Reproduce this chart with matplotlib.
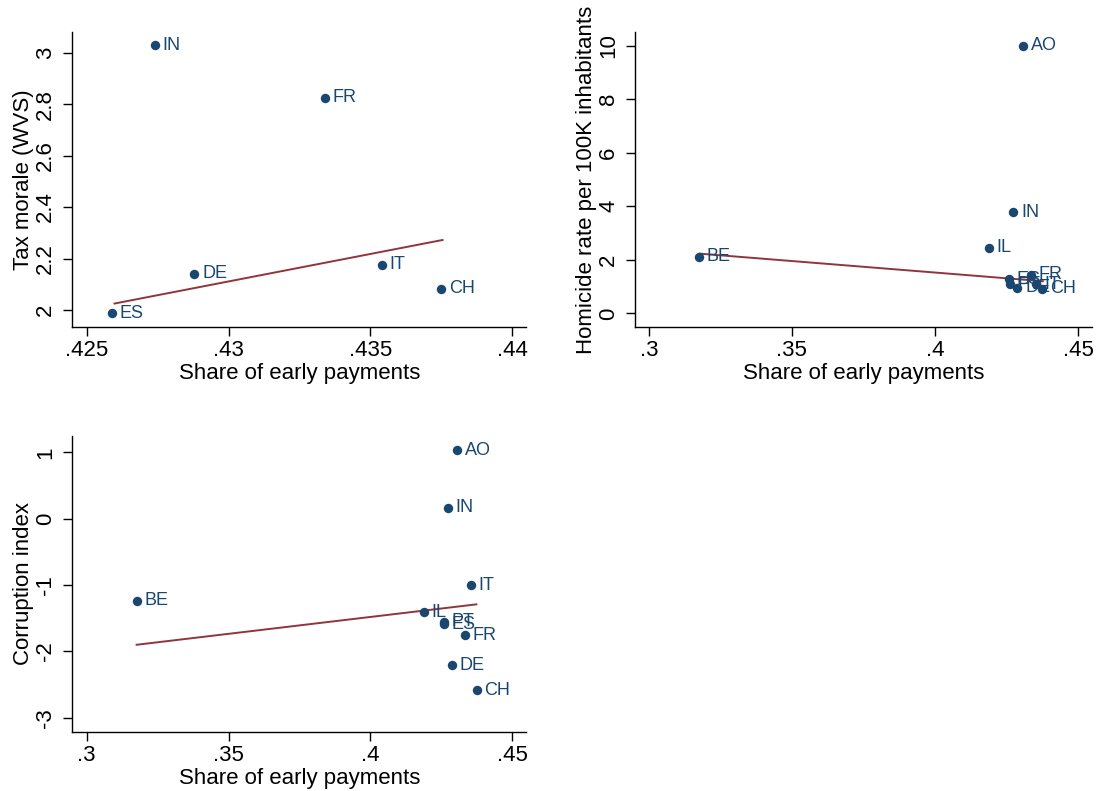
import matplotlib
matplotlib.use("Agg")
import matplotlib.pyplot as plt
import numpy as np

plt.rcParams['font.family'] = ['Liberation Sans', 'DejaVu Sans']

# ---------------- data ----------------
countries = ['AO', 'BE', 'CH', 'DE', 'ES', 'FR', 'IL', 'IN', 'IT', 'PT']
early_share = [0.4307, 0.3176, 0.4375, 0.4288, 0.4259, 0.4334, 0.4188, 0.4274, 0.4354, 0.4261]

# Tax morale (WVS) only for a subset
tax_countries = ['CH', 'DE', 'ES', 'FR', 'IN', 'IT']
tax_morale = [2.083, 2.140, 1.987, 2.824, 3.029, 2.176]

homicide = [10.0, 2.12, 0.92, 0.96, 1.28, 1.45, 2.45, 3.77, 1.08, 1.08]
corruption = [1.035, -1.236, -2.583, -2.211, -1.593, -1.754, -1.412, 0.166, -1.0, -1.553]

# fitted lines (endpoints)
fit_tax_x = [0.42598, 0.43755]
fit_tax_y = [2.025, 2.272]
fit_hom_x = [0.3178, 0.4377]
fit_hom_y = [2.23, 1.20]
fit_cor_x = [0.3176, 0.4374]
fit_cor_y = [-1.900, -1.291]

# axis ticks
tax_xticks = [0.425, 0.43, 0.435, 0.44]
tax_xlabels = ['.425', '.43', '.435', '.44']
tax_yticks = [2, 2.2, 2.4, 2.6, 2.8, 3]
tax_ylabels = ['2', '2.2', '2.4', '2.6', '2.8', '3']

wide_xticks = [0.3, 0.35, 0.4, 0.45]
wide_xlabels = ['.3', '.35', '.4', '.45']
hom_yticks = [0, 2, 4, 6, 8, 10]
hom_ylabels = ['0', '2', '4', '6', '8', '10']
cor_yticks = [-3, -2, -1, 0, 1]
cor_ylabels = ['-3', '-2', '-1', '0', '1']

xlabel = 'Share of early payments'

DOT = '#1a476f'
LINE = '#90353b'

W, H = 1097, 791
fig = plt.figure(figsize=(W / 100, H / 100), dpi=100)
fig.patch.set_facecolor('white')


def px_axes(left, top, right, bottom):
    return fig.add_axes([left / W, 1 - bottom / H, (right - left) / W, (bottom - top) / H])


def style(ax, xticks, xlabels, yticks, ylabels, xlim, ylim, ytitle):
    for s in ['top', 'right']:
        ax.spines[s].set_visible(False)
    for s in ['left', 'bottom']:
        ax.spines[s].set_linewidth(1.0)
        ax.spines[s].set_color('#000000')
    ax.set_xlim(*xlim)
    ax.set_ylim(*ylim)
    ax.set_xticks(xticks)
    ax.set_xticklabels(xlabels)
    ax.set_yticks(yticks)
    ax.set_yticklabels(ylabels, rotation=90, va='center')
    ax.tick_params(axis='both', direction='out', length=6.5, width=1.0,
                   labelsize=16, colors='#000000')
    ax.tick_params(axis='x', pad=3)
    ax.tick_params(axis='y', pad=5)
    ax.set_xlabel(xlabel, fontsize=16, labelpad=1.5)
    ax.set_ylabel(ytitle, fontsize=16, labelpad=1)


def scatter_labels(ax, xs, ys, names):
    ax.plot(xs, ys, 'o', color=DOT, markersize=6.8, zorder=3, markeredgewidth=0)
    for x, y, n in zip(xs, ys, names):
        ax.annotate(n, (x, y), xytext=(5.5, 0), textcoords='offset points',
                    ha='left', va='center', fontsize=13, color=DOT, zorder=4)


# --- top-left: tax morale ---
ax1 = px_axes(72.3, 32.3, 526.5, 326.7)
share_map = dict(zip(countries, early_share))
tx = [share_map[c] for c in tax_countries]
ax1.plot(fit_tax_x, fit_tax_y, color=LINE, lw=1.4, zorder=2)
scatter_labels(ax1, tx, tax_morale, tax_countries)
style(ax1, tax_xticks, tax_xlabels, tax_yticks, tax_ylabels,
      (0.42449, 0.44051), (1.935, 3.079), 'Tax morale (WVS)')

# --- top-right: homicide ---
ax2 = px_axes(635.0, 32.3, 1091.8, 326.7)
ax2.plot(fit_hom_x, fit_hom_y, color=LINE, lw=1.4, zorder=2)
scatter_labels(ax2, early_share, homicide, countries)
style(ax2, wide_xticks, wide_xlabels, hom_yticks, hom_ylabels,
      (0.29518, 0.45479), (-0.50, 10.50), 'Homicide rate per 100K inhabitants')

# --- bottom-left: corruption ---
ax3 = px_axes(72.3, 436.0, 526.5, 731.7)
ax3.plot(fit_cor_x, fit_cor_y, color=LINE, lw=1.4, zorder=2)
scatter_labels(ax3, early_share, corruption, countries)
style(ax3, wide_xticks, wide_xlabels, cor_yticks, cor_ylabels,
      (0.29492, 0.45508), (-3.21, 1.246), 'Corruption index')

fig.savefig('out.png', dpi=100, facecolor='white')
